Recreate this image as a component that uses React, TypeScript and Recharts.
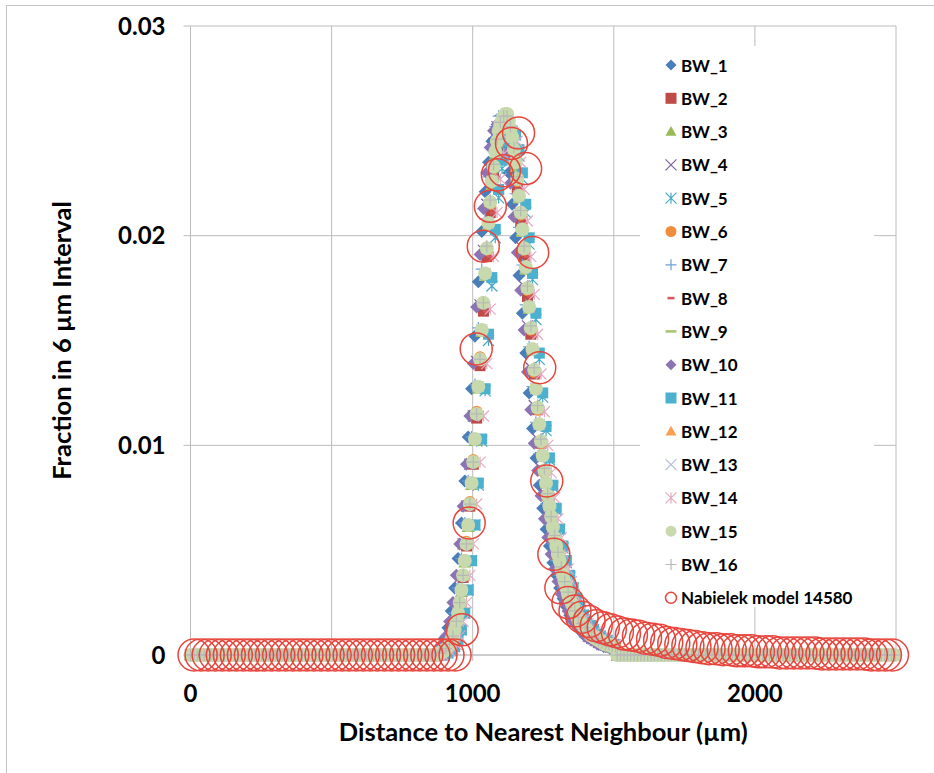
import React from 'react';
import { ScatterChart, Scatter, XAxis, YAxis, CartesianGrid, Legend, Label } from 'recharts';

// BW and model values are written in units of 1e-4 (fraction in 6 µm interval)
const Y_UNIT = 1e-4;

const X_TICKS = [0, 500, 1000, 1500, 2000, 2500];
const Y_TICKS = [0, 0.01, 0.02, 0.03];

// distances where every BW sample reads 0
const ZERO_X = [
  0, 12, 24, 36, 48, 60, 72, 84, 96, 108, 120, 132, 144, 156, 168, 180, 192, 204, 216, 228,
  240, 252, 264, 276, 288, 300, 312, 324, 336, 348, 360, 372, 384, 396, 408, 420, 432, 444, 456, 468,
  480, 492, 504, 516, 528, 540, 552, 564, 576, 588, 600, 612, 624, 636, 648, 660, 672, 684, 696, 708,
  720, 732, 744, 756, 768, 780, 792, 804, 816, 828, 840, 852, 864,
  1512, 1524, 1536, 1548, 1560, 1572, 1584, 1596, 1608, 1620, 1632, 1644, 1656, 1668, 1680, 1692,
  1704, 1716, 1728, 1740, 1752, 1764, 1776, 1788, 1800, 1812, 1824, 1836, 1848, 1860, 1872, 1884,
  1896, 1908, 1920, 1932, 1944, 1956, 1968, 1980, 1992, 2004, 2016, 2028, 2040, 2052, 2064, 2076,
  2088, 2100, 2112, 2124, 2136, 2148, 2160, 2172, 2184, 2196, 2208, 2220, 2232, 2244, 2256, 2268,
  2280, 2292, 2304, 2316, 2328, 2340, 2352, 2364, 2376, 2388, 2400, 2412, 2424, 2436, 2448, 2460,
  2472, 2484, 2496,
];

const X_A = [
  876, 888, 900, 912, 924, 936, 948, 960, 972, 984, 996, 1008, 1020, 1032, 1044, 1056, 1068, 1080,
  1092, 1104, 1116, 1128, 1140, 1152, 1164, 1176, 1188, 1200, 1212, 1224, 1236, 1248, 1260, 1272,
  1284, 1296, 1308, 1320, 1332, 1344, 1356, 1368, 1380, 1392, 1404, 1416, 1428, 1440, 1452, 1464,
  1476, 1488, 1500,
];
const X_B = [
  882, 894, 906, 918, 930, 942, 954, 966, 978, 990, 1002, 1014, 1026, 1038, 1050, 1062, 1074, 1086,
  1098, 1110, 1122, 1134, 1146, 1158, 1170, 1182, 1194, 1206, 1218, 1230, 1242, 1254, 1266, 1278,
  1290, 1302, 1314, 1326, 1338, 1350, 1362, 1374, 1386, 1398, 1410, 1422, 1434, 1446, 1458, 1470,
  1482, 1494, 1506,
];
const X_FINE = [
  876, 882, 888, 894, 900, 906, 912, 918, 924, 930, 936, 942, 948, 954, 960, 966, 972, 978, 984, 990,
  996, 1002, 1008, 1014, 1020, 1026, 1032, 1038, 1044, 1050, 1056, 1062, 1068, 1074, 1080, 1086,
  1092, 1098, 1104, 1110, 1116, 1122, 1128, 1134, 1140, 1146, 1152, 1158, 1164, 1170, 1176, 1182,
  1188, 1194, 1200, 1206, 1212, 1218, 1224, 1230, 1236, 1242, 1248, 1254, 1260, 1266, 1272, 1278,
  1284, 1290, 1296, 1302, 1308, 1314, 1320, 1326, 1332, 1338, 1344, 1350, 1356, 1362, 1368, 1374,
  1380, 1386, 1392, 1398, 1404, 1410, 1416, 1422, 1428, 1434, 1440, 1446, 1452, 1458, 1464, 1470,
  1476, 1482, 1488, 1494, 1500,
];

const BW_1 = [2, 4, 8, 13, 21, 32, 46, 63, 83, 104, 127, 152, 178, 202, 221, 235, 245, 250, 252, 249, 242, 230, 215, 199, 181, 163, 144, 125, 108, 94, 81, 70, 60, 52, 44, 38, 32, 27, 23, 19, 16, 14, 12, 10, 9, 8, 7, 6, 5, 4, 4, 3, 3];
const BW_2 = [0, 1, 3, 5, 9, 15, 24, 37, 52, 71, 91, 113, 138, 164, 190, 211, 228, 239, 247, 250, 250, 245, 236, 222, 206, 190, 171, 153, 134, 117, 101, 88, 76, 66, 57, 49, 42, 35, 30, 25, 21, 18, 15, 13, 11, 9, 8, 7, 6, 5, 4, 4, 3];
const BW_3 = [0, 1, 2, 4, 7, 12, 19, 30, 44, 61, 81, 102, 127, 154, 181, 205, 224, 238, 248, 253, 255, 252, 245, 233, 218, 202, 184, 165, 145, 127, 110, 95, 82, 71, 61, 53, 45, 38, 32, 27, 23, 19, 16, 14, 12, 10, 9, 8, 7, 6, 5, 5, 4];
const BW_4 = [1, 3, 5, 9, 15, 24, 37, 53, 71, 91, 114, 140, 167, 193, 215, 232, 244, 252, 255, 256, 251, 242, 228, 212, 195, 176, 157, 137, 119, 103, 89, 77, 66, 57, 49, 42, 35, 30, 25, 21, 18, 15, 13, 11, 9, 8, 7, 6, 5, 5, 4, 4, 3];
const BW_5 = [0, 0, 0, 1, 2, 4, 7, 12, 20, 31, 45, 62, 81, 102, 126, 150, 176, 199, 218, 232, 241, 246, 248, 245, 238, 227, 211, 196, 179, 160, 141, 123, 107, 93, 80, 69, 60, 51, 44, 37, 32, 27, 23, 19, 16, 14, 12, 10, 9, 8, 7, 6, 5];
const BW_6 = [1, 2, 3, 5, 9, 16, 25, 38, 54, 73, 93, 116, 142, 168, 193, 215, 232, 243, 251, 254, 254, 249, 239, 226, 210, 193, 174, 155, 135, 117, 101, 87, 75, 65, 55, 47, 40, 34, 29, 24, 20, 17, 15, 13, 11, 9, 8, 7, 6, 5, 5, 4, 4];
const BW_7 = [1, 2, 4, 7, 12, 20, 32, 46, 63, 83, 104, 129, 156, 184, 208, 228, 242, 252, 257, 258, 255, 248, 236, 220, 204, 186, 167, 147, 128, 111, 96, 83, 72, 62, 53, 45, 38, 32, 27, 23, 19, 16, 14, 12, 10, 9, 8, 7, 6, 5, 5, 4, 4];
const BW_8 = [0, 1, 2, 3, 5, 9, 16, 25, 37, 52, 71, 91, 113, 138, 164, 190, 211, 228, 239, 247, 250, 250, 245, 235, 222, 206, 190, 171, 152, 133, 116, 100, 87, 75, 65, 56, 48, 41, 35, 29, 25, 21, 17, 15, 13, 11, 9, 8, 7, 6, 5, 5, 4];
const BW_9 = [0, 1, 2, 4, 7, 12, 20, 31, 45, 62, 81, 102, 126, 153, 179, 203, 222, 236, 246, 251, 252, 250, 243, 231, 216, 200, 182, 164, 144, 126, 109, 94, 81, 70, 60, 52, 45, 38, 32, 27, 23, 19, 16, 14, 12, 10, 9, 8, 7, 6, 5, 5, 4];
const BW_10 = [3, 5, 9, 16, 25, 38, 53, 71, 91, 114, 139, 166, 191, 213, 230, 242, 250, 253, 253, 248, 239, 225, 209, 192, 174, 155, 135, 117, 101, 88, 76, 65, 56, 48, 41, 35, 29, 25, 21, 17, 15, 13, 11, 9, 8, 7, 6, 5, 5, 4, 4, 3, 3];
const BW_11 = [0, 0, 0, 1, 2, 4, 7, 12, 20, 31, 45, 62, 82, 103, 127, 153, 180, 203, 222, 236, 245, 250, 250, 248, 241, 230, 215, 199, 182, 163, 144, 125, 109, 94, 81, 70, 60, 52, 45, 38, 32, 27, 23, 19, 16, 14, 12, 10, 9, 8, 7, 6, 5];
const BW_12 = [1, 2, 3, 5, 9, 16, 25, 38, 53, 72, 92, 115, 141, 168, 194, 216, 233, 245, 253, 256, 256, 251, 241, 227, 211, 194, 175, 156, 136, 118, 102, 88, 76, 66, 56, 48, 41, 35, 29, 25, 21, 17, 15, 13, 11, 9, 8, 7, 6, 5, 5, 4, 4];
const BW_13 = [0, 1, 2, 4, 7, 12, 20, 31, 45, 62, 82, 103, 128, 155, 182, 206, 226, 240, 250, 255, 257, 254, 247, 235, 219, 203, 185, 166, 146, 127, 110, 95, 82, 71, 61, 52, 45, 38, 32, 27, 23, 19, 16, 14, 12, 10, 9, 8, 7, 6, 5, 5, 4];
const BW_14 = [0, 0, 1, 2, 3, 5, 9, 16, 25, 38, 53, 72, 92, 114, 139, 165, 190, 211, 227, 239, 246, 249, 249, 245, 235, 222, 207, 190, 172, 153, 134, 116, 100, 87, 75, 65, 56, 48, 41, 35, 29, 25, 21, 17, 15, 13, 11, 9, 8, 7, 6, 5, 5];
const BW_15 = [
  0, 1, 1, 2, 2, 3, 4, 5, 7, 9, 12, 16, 20, 25, 31, 38, 45, 53, 62, 72,
  82, 92, 103, 115, 128, 141, 155, 168, 182, 194, 206, 216, 226, 233, 240, 245, 250, 253, 255, 257,
  258, 258, 255, 251, 247, 241, 235, 227, 219, 211, 203, 194, 185, 175, 166, 156, 146, 136, 127, 118,
  110, 102, 95, 88, 82, 76, 71, 66, 61, 56, 52, 48, 45, 41, 38, 35, 32, 29, 27, 25,
  23, 21, 19, 17, 16, 15, 14, 13, 12, 11, 10, 9, 9, 8, 8, 7, 7, 6, 6, 5,
  5, 5, 5, 4, 4,
];
const BW_16 = [1, 2, 3, 5, 9, 16, 25, 38, 53, 72, 92, 115, 141, 168, 195, 217, 234, 246, 254, 257, 257, 252, 242, 228, 212, 195, 176, 157, 137, 119, 103, 89, 77, 66, 57, 49, 42, 35, 30, 25, 21, 18, 15, 13, 11, 9, 8, 7, 6, 5, 5, 4, 4];

const MODEL_X = [
  12.5, 37.5, 62.5, 87.5, 112.5, 137.5, 162.5, 187.5, 212.5, 237.5,
  262.5, 287.5, 312.5, 337.5, 362.5, 387.5, 412.5, 437.5, 462.5, 487.5,
  512.5, 537.5, 562.5, 587.5, 612.5, 637.5, 662.5, 687.5, 712.5, 737.5,
  762.5, 787.5, 812.5, 837.5, 862.5, 887.5, 912.5, 937.5, 962.5, 987.5,
  1012.5, 1037.5, 1062.5, 1087.5, 1112.5, 1137.5, 1162.5, 1187.5, 1212.5, 1237.5,
  1262.5, 1287.5, 1312.5, 1337.5, 1362.5, 1387.5, 1412.5, 1437.5, 1462.5, 1487.5,
  1512.5, 1537.5, 1562.5, 1587.5, 1612.5, 1637.5, 1662.5, 1687.5, 1712.5, 1737.5,
  1762.5, 1787.5, 1812.5, 1837.5, 1862.5, 1887.5, 1912.5, 1937.5, 1962.5, 1987.5,
  2012.5, 2037.5, 2062.5, 2087.5, 2112.5, 2137.5, 2162.5, 2187.5, 2212.5, 2237.5,
  2262.5, 2287.5, 2312.5, 2337.5, 2362.5, 2387.5, 2412.5, 2437.5, 2462.5, 2487.5,
];
const MODEL = [
  0, 0, 0, 0, 0, 0, 0, 0, 0, 0,
  0, 0, 0, 0, 0, 0, 0, 0, 0, 0,
  0, 0, 0, 0, 0, 0, 0, 0, 0, 0,
  0, 0, 0, 0, 0, 0, 0, 0, 12, 63,
  146, 195, 214, 229, 231, 244, 249, 232, 192, 137,
  83, 48, 32, 25, 21, 18, 16, 14, 13, 12,
  11, 10, 9.5, 9, 8, 7.5, 7, 6, 5.5, 5,
  4.5, 4, 3.5, 3, 3, 2.5, 2.5, 2, 2, 2,
  1.5, 1.5, 1.5, 1, 1, 1, 1, 1, 1, 0.5,
  0.5, 0.5, 0.5, 0.5, 0.5, 0.5, 0, 0, 0, 0,
];

type Kind = 'diamond' | 'square' | 'triangle' | 'x' | 'star' | 'circle' | 'plus' | 'dash' | 'longdash' | 'ring';

interface SeriesDef {
  name: string;
  kind: Kind;
  color: string;
  size: number;
  xs: number[];
  ys: number[];
  model?: boolean;
}

const SERIES: SeriesDef[] = [
  { name: 'BW_1', kind: 'diamond', color: '#4a7ebb', size: 13, xs: X_A, ys: BW_1 },
  { name: 'BW_2', kind: 'square', color: '#be4b48', size: 11, xs: X_B, ys: BW_2 },
  { name: 'BW_3', kind: 'triangle', color: '#98b954', size: 13, xs: X_A, ys: BW_3 },
  { name: 'BW_4', kind: 'x', color: '#7d60a0', size: 11, xs: X_B, ys: BW_4 },
  { name: 'BW_5', kind: 'star', color: '#46aac5', size: 11, xs: X_A, ys: BW_5 },
  { name: 'BW_6', kind: 'circle', color: '#f08c3c', size: 12, xs: X_B, ys: BW_6 },
  { name: 'BW_7', kind: 'plus', color: '#6f9fd8', size: 12, xs: X_A, ys: BW_7 },
  { name: 'BW_8', kind: 'dash', color: '#d9585a', size: 7, xs: X_B, ys: BW_8 },
  { name: 'BW_9', kind: 'longdash', color: '#a9c476', size: 12, xs: X_A, ys: BW_9 },
  { name: 'BW_10', kind: 'diamond', color: '#8c74b4', size: 13, xs: X_B, ys: BW_10 },
  { name: 'BW_11', kind: 'square', color: '#4bb1cf', size: 11, xs: X_A, ys: BW_11 },
  { name: 'BW_12', kind: 'triangle', color: '#f9a04e', size: 13, xs: X_B, ys: BW_12 },
  { name: 'BW_13', kind: 'x', color: '#b4bcda', size: 11, xs: X_A, ys: BW_13 },
  { name: 'BW_14', kind: 'star', color: '#e3aac2', size: 11, xs: X_B, ys: BW_14 },
  { name: 'BW_15', kind: 'circle', color: '#c7d9ad', size: 14, xs: X_FINE, ys: BW_15 },
  { name: 'BW_16', kind: 'plus', color: '#b8b8b8', size: 12, xs: X_B, ys: BW_16 },
  { name: 'Nabielek model 14580', kind: 'ring', color: '#e8453c', size: 32, xs: MODEL_X, ys: MODEL, model: true },
];

const FONT = 'Lato, "Open Sans", sans-serif';
const GRID = '#bcbcbc';

function Marker({ kind, color, cx, cy, size }: { kind: Kind; color: string; cx: number; cy: number; size: number }) {
  const h = size / 2;
  switch (kind) {
    case 'diamond':
      return <polygon points={`${cx},${cy - h} ${cx + h},${cy} ${cx},${cy + h} ${cx - h},${cy}`} fill={color} />;
    case 'square':
      return <rect x={cx - h} y={cy - h} width={size} height={size} fill={color} />;
    case 'triangle':
      return <polygon points={`${cx},${cy - h} ${cx + h},${cy + h * 0.75} ${cx - h},${cy + h * 0.75}`} fill={color} />;
    case 'x':
      return <path d={`M${cx - h},${cy - h}L${cx + h},${cy + h}M${cx - h},${cy + h}L${cx + h},${cy - h}`} stroke={color} strokeWidth={1.2} fill="none" />;
    case 'star':
      return <path d={`M${cx - h},${cy - h}L${cx + h},${cy + h}M${cx - h},${cy + h}L${cx + h},${cy - h}M${cx},${cy - h}L${cx},${cy + h}`} stroke={color} strokeWidth={1.2} fill="none" />;
    case 'circle':
      return <circle cx={cx} cy={cy} r={h} fill={color} />;
    case 'plus':
      return <path d={`M${cx - h},${cy}L${cx + h},${cy}M${cx},${cy - h}L${cx},${cy + h}`} stroke={color} strokeWidth={1.2} fill="none" />;
    case 'dash':
    case 'longdash':
      return <path d={`M${cx - h},${cy}L${cx + h},${cy}`} stroke={color} strokeWidth={2.6} fill="none" />;
    case 'ring':
      return <circle cx={cx} cy={cy} r={h} fill="none" stroke={color} strokeWidth={1.5} />;
    default:
      return null;
  }
}

function buildData(s: SeriesDef) {
  const pts = s.xs.map((x, i) => ({ x, y: s.ys[i] * Y_UNIT }));
  if (s.model) return pts;
  return [...ZERO_X.map((x) => ({ x, y: 0 })), ...pts].sort((a, b) => a.x - b.x);
}

const renderLegend = () => (
  <svg width={234} height={561} style={{ display: 'block' }}>
    {SERIES.map((s, i) => {
      const cy = 19 + i * 33.3;
      return (
        <g key={s.name}>
          <Marker kind={s.kind} color={s.color} cx={31} cy={cy} size={s.model ? 11 : Math.min(s.size, 11)} />
          <text x={41} y={cy} dominantBaseline="central" fontFamily={FONT} fontWeight={700} fontSize={17} fill="#000">
            {s.name}
          </text>
        </g>
      );
    })}
  </svg>
);

const App: React.FC = () => {
  return (
    <div style={{ position: 'absolute', left: 0, top: 0, width: 934, height: 773, background: '#fff', overflow: 'hidden' }}>
      <div style={{ position: 'absolute', left: 6, top: 5, width: 960, height: 800, border: '1px solid #c4c4c4', boxSizing: 'border-box' }} />
      <div style={{ position: 'absolute', left: 0, top: 0 }}>
        <ScatterChart width={934} height={773} margin={{ top: 26, right: 38, bottom: 88, left: 130.5 }}>
          <CartesianGrid stroke={GRID} strokeWidth={1} />
          <XAxis
            type="number"
            dataKey="x"
            domain={[0, 2500]}
            ticks={X_TICKS}
            interval={0}
            height={30}
            tickSize={6}
            tickMargin={24}
            stroke={GRID}
            tickFormatter={(v: number) => (v % 1000 === 0 ? String(v) : '')}
            tick={{ fill: '#000', fontFamily: FONT, fontWeight: 700, fontSize: 24 }}
          >
            <Label
              content={(p: any) => {
                const vb = p.viewBox || { x: 190.5, y: 655, width: 705.5 };
                return (
                  <text x={vb.x + vb.width / 2} y={741} textAnchor="middle" fontFamily={FONT} fontWeight={700} fontSize={25.5} fill="#000">
                    Distance to Nearest Neighbour (µm)
                  </text>
                );
              }}
            />
          </XAxis>
          <YAxis
            type="number"
            dataKey="y"
            domain={[0, 0.03]}
            ticks={Y_TICKS}
            interval={0}
            width={60}
            tickSize={7}
            tickMargin={18}
            stroke={GRID}
            tick={{ fill: '#000', fontFamily: FONT, fontWeight: 700, fontSize: 24 }}
          >
            <Label
              content={(p: any) => {
                const vb = p.viewBox || { x: 130.5, y: 26, width: 60, height: 629 };
                const tx = vb.x + vb.width - 120;
                const ty = vb.y + vb.height / 2;
                return (
                  <text x={tx} y={ty} transform={`rotate(-90, ${tx}, ${ty})`} textAnchor="middle" fontFamily={FONT} fontWeight={700} fontSize={25.5} fill="#000">
                    Fraction in 6 µm Interval
                  </text>
                );
              }}
            />
          </YAxis>
          <Legend
            layout="vertical"
            align="center"
            verticalAlign="middle"
            content={renderLegend}
            wrapperStyle={{ left: 640, top: 46, width: 234, height: 561, background: '#fff' }}
          />
          {SERIES.map((s) => (
            <Scatter
              key={s.name}
              name={s.name}
              data={buildData(s)}
              isAnimationActive={false}
              shape={(p: any) => <Marker kind={s.kind} color={s.color} cx={p.cx} cy={p.cy} size={s.size} />}
            />
          ))}
        </ScatterChart>
      </div>
    </div>
  );
};

export default App;
